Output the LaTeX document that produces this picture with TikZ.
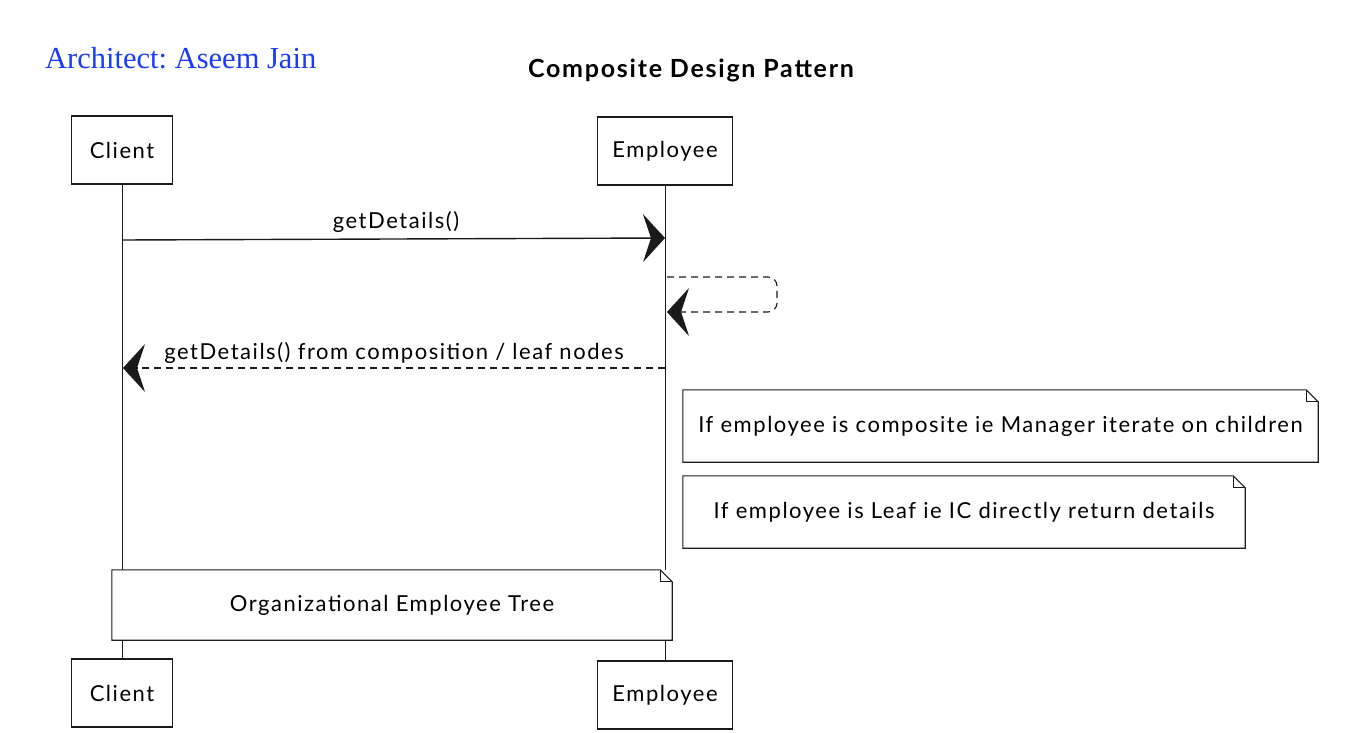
\documentclass[tikz,border=0pt]{standalone}
\usepackage{fontspec}
\setmainfont{Liberation Serif}
\newfontfamily\handfont[LetterSpace=7]{Lato}
\usetikzlibrary{arrows.meta,calc}
\definecolor{authorblue}{HTML}{1A3CF5}
\definecolor{ink}{HTML}{1A1A1A}
\frenchspacing

% outline of a note with a folded top-right corner
\newcommand\dognote[1]{%
  \draw[notestroke] (#1.north west) -- ($(#1.north east)+(-12,0)$) -- ($(#1.north east)+(0,12)$)
     -- (#1.south east) -- (#1.south west) -- cycle;
  \draw[notestroke] ($(#1.north east)+(-12,0)$) |- ($(#1.north east)+(0,12)$);}

\begin{document}
\begin{tikzpicture}[x=1pt,y=-1pt,
  hand/.style={font=\handfont\fontsize{22}{26}\selectfont},
  actor/.style={draw=ink, line width=1.1pt, fill=white, minimum height=68pt, hand},
  lifeline/.style={draw=ink, line width=0.9pt},
  notebox/.style={fill=white, minimum height=72pt, inner sep=0pt, hand},
  notestroke/.style={draw=ink, line width=1.1pt},
  bigtip/.style={-{Stealth[length=22pt,width=48pt,inset=8pt]}},
  callmsg/.style={draw=ink, line width=1.4pt, bigtip},
  retmsg/.style={draw=ink, line width=1.1pt, dash pattern=on 7pt off 5pt, bigtip},
  msglabel/.style={hand, inner sep=1pt}
]
\useasboundingbox (0,0) rectangle (1369,733);

% headings
\node[text=authorblue, font=\fontsize{30.5}{34}\selectfont, anchor=west, inner sep=0pt] (author) at (45,58) {Architect: Aseem Jain};
\node[font=\handfont\bfseries\fontsize{25}{29}\selectfont] (title) at (691,70) {Composite Design Pattern};

% participants, top and bottom
\node[actor, minimum width=101pt] (clientTop) at (122,150) {Client};
\node[actor, minimum width=135pt] (empTop) at (665,151) {Employee};
\node[actor, minimum width=101pt] (clientBot) at (122,693) {Client};
\node[actor, minimum width=135pt] (empBot) at (665,695) {Employee};

% lifelines
\draw[lifeline] (clientTop.south) -- (clientBot.north);
\draw[lifeline] (empTop.south) -- (empBot.north);

% message anchor points on the lifelines
\coordinate (callStart) at (122,240);
\coordinate (callEnd) at (665,238);
\coordinate (selfStart) at (667,277);
\coordinate (selfEnd) at (667,312);
\coordinate (retStart) at (665,368);
\coordinate (retEnd) at (123,368);

% getDetails() call
\draw[callmsg] (callStart) -- (callEnd);
\node[msglabel] (callLabel) at (396,222) {getDetails()};

% self call on the employee
\draw[retmsg, rounded corners=9pt] (selfStart) -- (777,277) -- (777,312) -- (selfEnd);

% returned details
\draw[retmsg] (retStart) -- (retEnd);
\node[msglabel] (retLabel) at (394,353) {getDetails() from composition / leaf nodes};

% notes
\node[notebox, minimum width=635pt] (noteComposite) at (1000.5,426) {If employee is composite ie Manager iterate on children};
\dognote{noteComposite}
\node[notebox, minimum width=562pt] (noteLeaf) at (964,512) {If employee is Leaf ie IC directly return details};
\dognote{noteLeaf}
\node[notebox, minimum width=560pt, minimum height=70pt] (noteTree) at (392,605) {Organizational Employee Tree};
\dognote{noteTree}
\end{tikzpicture}
\end{document}
